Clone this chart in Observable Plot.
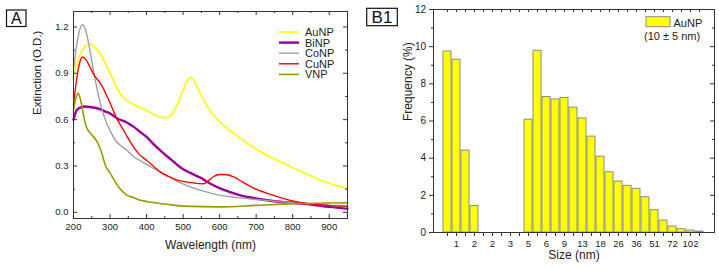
<!DOCTYPE html>
<html><head><meta charset="utf-8">
<script src="https://cdn.jsdelivr.net/npm/d3@7"></script>
<script src="https://cdn.jsdelivr.net/npm/@observablehq/plot@0.6"></script>
<style>
html,body{margin:0;padding:0;background:#fff;}
#wrap{position:relative;width:719px;height:269px;overflow:hidden;font-family:"Liberation Sans",Arial,sans-serif;}
#wrap svg{position:absolute;top:0;}
</style></head><body><div id="wrap"></div>
<script>
// ---------- Panel A data: extinction spectra ----------
const seriesNames = ["AuNP", "BiNP", "CoNP", "CuNP", "VNP"];
const wlAu = [200,210,220,230,240,250,260,275,290,300,320,340,360,380,400,420,440,455,470,485,500,512,522,532,545,560,575,590,600,620,650,700,750,800,850,880,900,930,950];
const auNP = [0.88,0.97,1.03,1.07,1.09,1.085,1.065,1.02,0.95,0.90,0.80,0.735,0.705,0.68,0.66,0.635,0.615,0.612,0.635,0.70,0.79,0.855,0.872,0.84,0.78,0.71,0.655,0.61,0.585,0.545,0.49,0.41,0.345,0.29,0.235,0.205,0.186,0.168,0.15];
const wlBi = [200,205,210,220,230,250,270,290,300,320,347,365,380,400,420,438,460,475,493,520,547,575,603,650,703,750,803,850,900,950];
const biNP = [0.60,0.64,0.665,0.68,0.685,0.68,0.67,0.65,0.64,0.607,0.58,0.553,0.525,0.488,0.44,0.40,0.355,0.326,0.29,0.255,0.225,0.185,0.153,0.115,0.088,0.072,0.06,0.05,0.035,0.024];
const wlCo = [200,205,210,218,225,232,240,250,260,270,280,290,300,315,330,347,365,385,411,450,493,550,603,650,703,803,900,950];
const coNP = [0.92,1.02,1.10,1.19,1.215,1.19,1.11,0.98,0.85,0.74,0.65,0.58,0.53,0.465,0.43,0.40,0.36,0.33,0.295,0.245,0.19,0.14,0.11,0.095,0.082,0.062,0.045,0.034];
const wlCu = [200,208,215,225,235,243,256,275,293,305,320,335,347,365,380,400,420,438,460,475,500,529,556,570,584,600,620,640,656,700,747,800,847,900,950];
const cuNP = [0.70,0.85,0.95,1.005,0.985,0.95,0.89,0.83,0.745,0.68,0.60,0.54,0.49,0.42,0.375,0.337,0.295,0.26,0.232,0.217,0.20,0.19,0.185,0.205,0.232,0.245,0.243,0.228,0.206,0.15,0.11,0.073,0.055,0.045,0.04];
const wlV = [200,207,213,219,225,234,247,258,265,275,288,300,320,347,365,380,400,456,500,600,700,800,950];
const vNP = [0.66,0.74,0.77,0.73,0.66,0.56,0.51,0.48,0.455,0.40,0.30,0.255,0.175,0.11,0.095,0.08,0.07,0.052,0.04,0.035,0.045,0.056,0.062];
const xTicksA = [200,300,400,500,600,700,800,900];
const xMinorA = [250,350,450,550,650,750,850,950];
const yTicksA = [0, 0.3, 0.6, 0.9, 1.2];
const yMinorA = [0.15, 0.45, 0.75, 1.05];

// ---------- Panel B1 data: size histogram ----------
const sizeBins = d3.range(29);
const frequency = [9.74,9.30,4.41,1.43,0,0,0,0,0,6.07,9.78,7.29,7.16,7.24,6.72,6.14,5.16,4.08,3.24,2.74,2.51,2.35,1.90,1.20,0.64,0.32,0.18,0.11,0.05];
const sizeLabels = ["1","2","2","3","5","6","9","13","18","26","36","51","72","102"];
const labeledBins = [1,3,5,7,9,11,13,15,17,19,21,23,25,27];
const yTicksB = [0,2,4,6,8,10,12];
const yMinorB = [1,3,5,7,9,11];

const FONT = "'Liberation Sans', Arial, Helvetica, sans-serif";
const wrap = d3.select("#wrap");

// ================= Panel A =================
const H = 269;
const WA = 360, mA = {l: 73, r: 13, t: 11, b: 51};
const iwA = WA - mA.l - mA.r, ihA = H - mA.t - mA.b;
const styleA = [
  {name: "AuNP", wl: wlAu, v: auNP, color: "#ffff00", w: 1.6},
  {name: "BiNP", wl: wlBi, v: biNP, color: "#990099", w: 2.4},
  {name: "CoNP", wl: wlCo, v: coNP, color: "#a0a0a0", w: 1.4},
  {name: "CuNP", wl: wlCu, v: cuNP, color: "#ff0000", w: 1.4},
  {name: "VNP",  wl: wlV,  v: vNP,  color: "#999900", w: 1.6}
];
const rowsA = styleA.flatMap(s => s.wl.map((w, i) => ({series: s.name, wl: w, ext: s.v[i]})));
const tk = "#333";
const plotA = Plot.plot({
  width: WA, height: H,
  marginLeft: mA.l, marginRight: mA.r, marginTop: mA.t, marginBottom: mA.b,
  style: {fontFamily: FONT, fontSize: "9.5px", color: "#222", background: "transparent"},
  x: {domain: [200, 950]},
  y: {domain: [-0.04, 1.3]},
  marks: [
    ...styleA.map(s => Plot.line(rowsA.filter(r => r.series === s.name),
      {x: "wl", y: "ext", stroke: s.color, strokeWidth: s.w, curve: "monotone-x"})),
    Plot.frame({stroke: tk}),
    Plot.ruleX(xTicksA, {insetTop: ihA - 4, stroke: tk}),
    Plot.ruleX(xMinorA, {insetTop: ihA - 2, stroke: tk}),
    Plot.ruleX(xTicksA, {insetBottom: ihA - 4, stroke: tk}),
    Plot.ruleX(xMinorA, {insetBottom: ihA - 2, stroke: tk}),
    Plot.ruleY(yTicksA, {insetRight: iwA - 4, stroke: tk}),
    Plot.ruleY(yMinorA, {insetRight: iwA - 2, stroke: tk}),
    Plot.ruleY(yTicksA, {insetLeft: iwA - 4, stroke: tk}),
    Plot.ruleY(yMinorA, {insetLeft: iwA - 2, stroke: tk}),
    Plot.axisX({ticks: xTicksA, tickSize: 0, tickPadding: 5, label: null, tickFormat: d => String(d)}),
    Plot.axisY({ticks: yTicksA, tickSize: 0, tickPadding: 5, label: null, tickFormat: d3.format(".1f")}),
    Plot.text(["Wavelength (nm)"], {text: d => d, frameAnchor: "bottom", dy: 30, fontSize: 12, fill: "#222"}),
    Plot.text(["Extinction (O.D.)"], {text: d => d, frameAnchor: "left", dx: -36, rotate: -90, fontSize: 11.5, fill: "#222"})
  ]
});
plotA.style.left = "0px";
wrap.node().appendChild(plotA);
{
  const g = d3.select(plotA).append("g").attr("font-family", FONT).attr("font-size", 11)
    .attr("fill", "#222").attr("text-anchor", "start");
  styleA.forEach((s, i) => {
    const cy = 32 + i * 10.6;
    g.append("line").attr("x1", 279).attr("x2", 299).attr("y1", cy).attr("y2", cy)
      .attr("stroke", s.color).attr("stroke-width", s.w);
    g.append("text").attr("x", 305).attr("y", cy).attr("dy", "0.36em").text(s.name);
  });
  g.append("rect").attr("x", 6.5).attr("y", 10).attr("width", 19.5).attr("height", 16.5)
    .attr("fill", "none").attr("stroke", "#111").attr("stroke-width", 1.2);
  g.append("text").attr("x", 16.3).attr("y", 18.5).attr("dy", "0.36em").attr("text-anchor", "middle")
    .attr("font-size", 16).attr("fill", "#111").text("A");
}

// ================= Panel B1 =================
const WB = 359, mB = {l: 73, r: 5, t: 9, b: 37};
const iwB = WB - mB.l - mB.r, ihB = H - mB.t - mB.b;
const rowsB = sizeBins.map(i => ({bin: i, freq: frequency[i]})).filter(d => d.freq > 0);
const plotB = Plot.plot({
  width: WB, height: H,
  marginLeft: mB.l, marginRight: mB.r, marginTop: mB.t, marginBottom: mB.b,
  style: {fontFamily: FONT, fontSize: "9.5px", color: "#222", background: "transparent"},
  x: {type: "band", domain: sizeBins, paddingInner: 0.1, paddingOuter: 0.62},
  y: {domain: [0, 12]},
  marks: [
    Plot.barY(rowsB, {x: "bin", y: "freq", fill: "#ffff00", stroke: "#8c8c8c", strokeWidth: 1}),
    Plot.frame({stroke: tk}),
    Plot.ruleX(sizeBins, {insetTop: ihB - 4, dy: 4, stroke: tk}),
    Plot.ruleX(sizeBins, {insetBottom: ihB - 3, stroke: tk}),
    Plot.ruleY(yTicksB, {insetRight: iwB - 4, dx: -4, stroke: tk}),
    Plot.ruleY(yMinorB, {insetRight: iwB - 2, dx: -2, stroke: tk}),
    Plot.ruleY(yTicksB, {insetLeft: iwB - 4, stroke: tk}),
    Plot.ruleY(yMinorB, {insetLeft: iwB - 2, stroke: tk}),
    Plot.axisX({ticks: labeledBins, tickSize: 0, tickPadding: 7.5, label: null,
      tickFormat: i => sizeLabels[labeledBins.indexOf(i)]}),
    Plot.axisY({ticks: yTicksB, tickSize: 0, tickPadding: 7.5, label: null, fontSize: 10}),
    Plot.text(["Size (nm)"], {text: d => d, frameAnchor: "bottom", dy: 26, fontSize: 12, fill: "#222"}),
    Plot.text(["Frequency (%)"], {text: d => d, frameAnchor: "left", dx: -25, rotate: -90, fontSize: 12, fill: "#222"})
  ]
});
plotB.style.left = "360px";
wrap.node().appendChild(plotB);
{
  const g = d3.select(plotB).append("g").attr("font-family", FONT).attr("font-size", 11)
    .attr("fill", "#222").attr("text-anchor", "start");
  g.append("rect").attr("x", 286).attr("y", 16.7).attr("width", 24).attr("height", 10)
    .attr("fill", "#ffff00").attr("stroke", "#8c8c8c");
  g.append("text").attr("x", 313.5).attr("y", 26.5).text("AuNP");
  g.append("text").attr("x", 284).attr("y", 39.5).text("(10 ± 5 nm)");
  g.append("rect").attr("x", 6.7).attr("y", 8.3).attr("width", 30.6).attr("height", 17.4)
    .attr("fill", "none").attr("stroke", "#111").attr("stroke-width", 1.2);
  g.append("text").attr("x", 22).attr("y", 17).attr("dy", "0.36em").attr("text-anchor", "middle")
    .attr("font-size", 17).attr("fill", "#111").text("B1");
}
</script></body></html>
